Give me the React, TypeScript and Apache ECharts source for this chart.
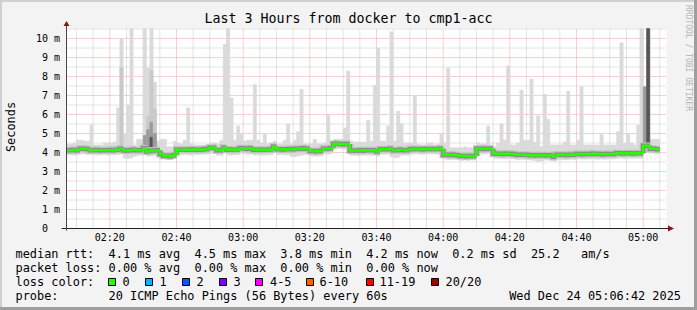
import React, { useEffect, useRef } from 'react';
import * as echarts from 'echarts';

// ---------- data ----------
const TITLE = 'Last 3 Hours from docker to cmp1-acc';
const TIME_START = '02:07'; // first minute on the axis
const TIME_END = '05:07';
const X_TICKS = ['02:20', '02:40', '03:00', '03:20', '03:40', '04:00', '04:20', '04:40', '05:00'];
const Y_TICKS = [0, 1, 2, 3, 4, 5, 6, 7, 8, 9, 10];

// median rtt per minute (ms)
const MED = [
  4.12, 4.12, 4.13, 4.12, 4.2, 4.2, 4.18, 4.12, 4.12, 4.13,
  4.12, 4.12, 4.12, 4.13, 4.12, 4.14, 4.2, 4.12, 4.1, 4.12,
  4.14, 4.12, 4.12, 4.22, 4.05, 4.08, 4.1, 4.12, 3.92, 3.83,
  3.83, 3.8, 3.85, 4.15, 4.15, 4.15, 4.14, 4.15, 4.16, 4.15,
  4.15, 4.16, 4.18, 4.25, 4.25, 4.12, 4.12, 4.25, 4.15, 4.16,
  4.15, 4.15, 4.22, 4.22, 4.2, 4.22, 4.15, 4.15, 4.14, 4.15,
  4.15, 4.16, 4.3, 4.17, 4.17, 4.16, 4.17, 4.18, 4.17, 4.2,
  4.2, 4.22, 4.2, 4.08, 4.08, 4.07, 4.08, 4.2, 4.2, 4.22,
  4.45, 4.46, 4.45, 4.44, 4.45, 4.1, 4.1, 4.1, 4.12, 4.1,
  4.12, 4.12, 4.12, 4.05, 4.17, 4.17, 4.17, 4.2, 4.12, 4.12,
  4.14, 4.12, 4.12, 4.17, 4.18, 4.18, 4.18, 4.17, 4.18, 4.18,
  4.18, 4.18, 4.2, 3.88, 3.88, 3.87, 3.88, 3.86, 3.82, 3.82,
  3.8, 3.82, 3.82, 4.2, 4.2, 4.18, 4.2, 4.2, 3.95, 3.93,
  3.93, 3.92, 3.93, 3.93, 3.92, 3.88, 3.88, 3.88, 3.88, 3.86,
  3.86, 3.85, 3.86, 3.86, 3.85, 3.85, 3.78, 3.88, 3.88, 3.88,
  3.87, 3.88, 3.88, 3.92, 3.92, 3.91, 3.92, 3.92, 3.93, 3.92,
  3.92, 3.91, 3.92, 3.92, 3.92, 3.96, 3.96, 3.95, 3.96, 3.96,
  3.95, 3.96, 3.96, 4.35, 4.35, 4.2, 4.2, 4.17,
];

// lowest ping per minute (ms)
const MIN = [
  3.88, 3.88, 3.85, 3.88, 3.92, 3.92, 3.9, 3.88, 3.88, 3.86,
  3.88, 3.88, 3.86, 3.88, 3.88, 3.88, 3.92, 3.7, 3.68, 3.72,
  3.8, 3.85, 3.86, 3.9, 3.8, 3.82, 3.85, 3.86, 3.7, 3.65,
  3.66, 3.65, 3.68, 3.88, 3.88, 3.9, 3.88, 3.86, 3.9, 3.88,
  3.9, 3.9, 3.92, 3.95, 3.95, 3.85, 3.86, 3.98, 3.88, 3.85,
  3.88, 3.88, 3.95, 3.94, 3.9, 3.92, 3.86, 3.88, 3.86, 3.86,
  3.88, 3.88, 4.0, 3.88, 3.9, 3.88, 3.88, 3.8, 3.78, 3.82,
  3.85, 3.9, 3.92, 3.82, 3.8, 3.8, 3.82, 3.92, 3.9, 3.95,
  4.2, 4.22, 4.2, 4.18, 4.2, 3.85, 3.85, 3.82, 3.85, 3.85,
  3.86, 3.85, 3.86, 3.8, 3.9, 3.9, 3.92, 3.78, 3.72, 3.75,
  3.85, 3.86, 3.86, 3.9, 3.92, 3.92, 3.9, 3.9, 3.92, 3.92,
  3.92, 3.9, 3.94, 3.65, 3.62, 3.62, 3.64, 3.62, 3.58, 3.6,
  3.58, 3.6, 3.6, 3.94, 3.95, 3.92, 3.95, 3.94, 3.7, 3.68,
  3.68, 3.66, 3.68, 3.68, 3.66, 3.62, 3.64, 3.62, 3.62, 3.6,
  3.58, 3.52, 3.55, 3.6, 3.6, 3.58, 3.55, 3.62, 3.62, 3.62,
  3.62, 3.64, 3.62, 3.66, 3.66, 3.64, 3.66, 3.66, 3.66, 3.64,
  3.66, 3.64, 3.66, 3.66, 3.66, 3.7, 3.7, 3.68, 3.7, 3.7,
  3.68, 3.7, 3.7, 4.0, 4.05, 3.95, 3.96, 3.92,
];

// highest ping per minute (ms)
const MAX = [
  4.45, 4.45, 4.5, 4.65, 4.65, 4.6, 4.6, 5.44, 4.4, 4.4,
  4.4, 4.5, 4.5, 4.5, 4.55, 6.35, 10.0, 5.0, 6.5, 10.6,
  4.4, 4.7, 4.7, 10.6, 8.45, 10.6, 7.7, 4.6, 4.7, 4.7,
  4.3, 4.3, 4.6, 4.5, 4.45, 4.65, 6.35, 4.45, 4.4, 4.4,
  4.4, 4.4, 4.4, 4.5, 4.5, 4.45, 4.65, 9.7, 10.6, 6.87,
  4.65, 5.4, 5.0, 4.6, 4.65, 4.65, 7.58, 4.65, 4.5, 5.0,
  4.45, 4.5, 4.6, 4.45, 4.45, 4.65, 5.5, 4.45, 4.65, 5.1,
  7.33, 4.45, 4.45, 4.45, 4.7, 4.45, 4.45, 4.5, 5.96, 4.5,
  4.7, 4.7, 4.7, 5.3, 8.28, 4.6, 4.55, 4.55, 4.55, 4.55,
  5.7, 4.6, 7.54, 9.5, 4.6, 4.6, 5.4, 10.35, 4.6, 6.17,
  5.52, 4.5, 4.5, 4.5, 7.0, 4.45, 4.4, 4.4, 4.5, 4.5,
  4.4, 4.45, 5.0, 4.5, 8.45, 4.25, 4.25, 4.25, 4.25, 4.3,
  4.25, 4.25, 4.25, 4.5, 4.45, 4.45, 5.4, 4.4, 4.3, 4.5,
  5.5, 4.65, 8.56, 4.4, 4.4, 4.5, 7.28, 4.65, 4.65, 7.86,
  4.55, 5.93, 4.3, 7.07, 5.76, 4.4, 4.4, 4.4, 4.4, 4.56,
  7.23, 4.4, 4.4, 4.65, 7.46, 4.4, 4.4, 4.4, 4.4, 4.4,
  4.95, 4.4, 4.4, 4.4, 4.4, 5.1, 9.77, 4.5, 4.97, 4.5,
  4.4, 5.44, 10.6, 7.46, 10.6, 4.7, 4.7, 4.7,
];

// denser smoke layers: [minute index, from ms, to ms, shade level]
const SMOKE_LAYERS = [
  [16, 4.3, 8.45, 0],
  [23, 4.3, 4.9, 1],
  [24, 4.3, 5.9, 0],
  [24, 4.15, 5.2, 1],
  [25, 4.3, 8.3, 0],
  [25, 4.2, 5.6, 1],
  [25, 4.2, 4.8, 2],
  [26, 4.3, 6.3, 0],
  [26, 4.2, 5.0, 1],
  [173, 4.45, 7.46, 1],
  [174, 4.2, 10.6, 2],
];

const RTT = [4.1, 4.5, 3.8, 4.2]; // avg max min now
const RTT_SD = 0.2;
const AM_S = 25.2;
const LOSS = [0, 0, 0, 0]; // avg max min now
const LOSS_LABELS = ['0', '1', '2', '3', '4-5', '6-10', '11-19', '20/20'];
const LOSS_COLORS = ['#26ff00', '#00b8ff', '#0059ff', '#7e00ff', '#ff00ff', '#ff5e00', '#ff0000', '#a10000'];
const PROBE = '20 ICMP Echo Pings (56 Bytes) every 60s';
const STAMP = 'Wed Dec 24 05:06:42 2025';

// ---------- layout / style ----------
const MONO = '"DejaVu Sans Mono", monospace';
const GL = 66.5, GT = 28.5, GW = 600, GH = 200;
const Y_MAX = GH / 19;
const SHADES = ['#c9c9c9', '#9a9a9a', '#555555'];

const toMin = (s: string) => { const [h, m] = s.split(':').map(Number); return h * 60 + m; };
const fmtMin = (v: number) => {
  const h = Math.floor(v / 60), m = Math.round(v % 60);
  return String(h).padStart(2, '0') + ':' + String(m).padStart(2, '0');
};
const T0 = toMin(TIME_START);
const T1 = toMin(TIME_END);

function buildOption() {
  const clampY = (v: number) => Math.max(0, Math.min(v, Y_MAX));

  const gridV: number[] = [];
  for (let t = Math.ceil(T0 / 5) * 5; t < T1; t += 5) gridV.push(t);
  const gridH: number[] = [];
  for (let k = 1; k <= 21; k++) gridH.push(k * 0.5);
  const gridData = [
    ...gridV.map((t) => [0, t, t % 20 === 0 ? 1 : 0]),
    ...gridH.map((v) => [1, v, Number.isInteger(v) ? 1 : 0]),
  ];

  const smokeData = MED.map((_, i) => [T0 + i, MIN[i], MAX[i]]);
  const layerData = SMOKE_LAYERS.map((l) => [T0 + l[0], l[1], l[2], l[3]]);
  const medData = MED.map((v, i) => [T0 + i, v, i > 0 ? MED[i - 1] : v]);

  const medianSeries = (color: string, width: number, z: number) => ({
    type: 'custom',
    z,
    silent: true,
    data: medData,
    renderItem: (_p: any, api: any) => {
      const t = api.value(0);
      const a = api.coord([t, clampY(api.value(2))]);
      const b = api.coord([t, clampY(api.value(1))]);
      const c = api.coord([t + 1, clampY(api.value(1))]);
      return {
        type: 'polyline',
        shape: { points: [[a[0], a[1]], [b[0], b[1]], [c[0], c[1]]] },
        style: { stroke: color, lineWidth: width, fill: null, lineCap: 'butt', lineJoin: 'miter' },
      };
    },
  });

  const rtt = `median rtt:  ${RTT[0].toFixed(1)} ms avg  ${RTT[1].toFixed(1)} ms max  ${RTT[2].toFixed(1)} ms min  ${RTT[3].toFixed(1)} ms now  ${RTT_SD.toFixed(1)} ms sd  ${AM_S.toFixed(1)}   am/s`;
  const loss = `packet loss: ${LOSS[0].toFixed(2)} % avg  ${LOSS[1].toFixed(2)} % max  ${LOSS[2].toFixed(2)} % min  ${LOSS[3].toFixed(2)} % now`;
  const probe = `probe:       ${PROBE}`;

  const legendFont = { fontFamily: MONO, fontSize: 11.9, fill: '#000' };
  const boxX = [108.5, 145.5, 182.5, 219.5, 255.5, 306.5, 366.5, 431.5];
  const labX = [122.5, 159.5, 196.5, 233.5, 270, 319.5, 379.5, 445.5];

  const graphic: any[] = [
    // bevel frame
    { type: 'rect', shape: { x: 0, y: 0, width: 697, height: 2 }, style: { fill: '#cfcfcf' }, z: 100 },
    { type: 'rect', shape: { x: 0, y: 0, width: 2, height: 310 }, style: { fill: '#cfcfcf' }, z: 100 },
    { type: 'rect', shape: { x: 0, y: 307, width: 697, height: 3 }, style: { fill: '#9e9e9e' }, z: 100 },
    { type: 'rect', shape: { x: 694, y: 0, width: 3, height: 310 }, style: { fill: '#9e9e9e' }, z: 100 },
    // axes
    { type: 'line', shape: { x1: GL - 5, y1: GT + GH, x2: GL + GW + 2, y2: GT + GH }, style: { stroke: '#222', lineWidth: 1 }, z: 100 },
    { type: 'line', shape: { x1: GL, y1: GT + GH + 2, x2: GL, y2: GT - 2.5 }, style: { stroke: '#444', lineWidth: 1 }, z: 100 },
    { type: 'polygon', shape: { points: [[GL + GW + 1.5, GT + GH - 3], [GL + GW + 7.5, GT + GH], [GL + GW + 1.5, GT + GH + 3]] }, style: { fill: '#8f1010' }, z: 100 },
    { type: 'polygon', shape: { points: [[GL - 3, GT - 2.5], [GL, GT - 7.5], [GL + 3, GT - 2.5]] }, style: { fill: '#8f1010' }, z: 100 },
    // side texts
    { type: 'text', x: 688.5, y: 5, rotation: -Math.PI / 2, style: { text: 'RRDTOOL / TOBI OETIKER', fontFamily: MONO, fontSize: 8, fill: '#b4b4b4', align: 'left', verticalAlign: 'middle' }, z: 100 },
    { type: 'text', x: 11, y: 127, rotation: Math.PI / 2, style: { text: 'Seconds', fontFamily: MONO, fontSize: 11.9, fill: '#000', align: 'center', verticalAlign: 'middle' }, z: 100 },
    // legend
    { type: 'text', x: 15.5, y: 254.3, style: { ...legendFont, text: rtt, align: 'left', verticalAlign: 'middle' }, z: 100 },
    { type: 'text', x: 15.5, y: 268.3, style: { ...legendFont, text: loss, align: 'left', verticalAlign: 'middle' }, z: 100 },
    { type: 'text', x: 15.5, y: 282.4, style: { ...legendFont, text: 'loss color:', align: 'left', verticalAlign: 'middle' }, z: 100 },
    { type: 'text', x: 15.5, y: 296.3, style: { ...legendFont, text: probe, align: 'left', verticalAlign: 'middle' }, z: 100 },
    { type: 'text', x: 681, y: 296.3, style: { ...legendFont, text: STAMP, align: 'right', verticalAlign: 'middle' }, z: 100 },
  ];
  LOSS_LABELS.forEach((lab, i) => {
    graphic.push({ type: 'rect', shape: { x: boxX[i], y: 278.5, width: 7, height: 7 }, style: { fill: LOSS_COLORS[i], stroke: '#000', lineWidth: 1 }, z: 100 });
    graphic.push({ type: 'text', x: labX[i], y: 282.4, style: { ...legendFont, text: lab, align: 'left', verticalAlign: 'middle' }, z: 100 });
  });

  return {
    animation: false,
    backgroundColor: '#f3f3f3',
    title: {
      text: TITLE,
      left: 'center',
      top: 12,
      padding: 0,
      textStyle: { fontFamily: MONO, fontSize: 13.3, fontWeight: 'normal', color: '#000' },
    },
    grid: { left: GL, top: GT, width: GW, height: GH, show: true, backgroundColor: '#ffffff', borderWidth: 0 },
    xAxis: {
      type: 'value',
      min: T0,
      max: T1,
      axisLine: { show: false },
      axisTick: { show: false },
      splitLine: { show: false },
      axisLabel: {
        customValues: X_TICKS.map(toMin),
        formatter: (v: number) => fmtMin(v),
        fontFamily: MONO,
        fontSize: 10,
        color: '#000',
        margin: 4,
      },
    },
    yAxis: {
      type: 'value',
      min: 0,
      max: Y_MAX,
      axisLine: { show: false },
      axisTick: { show: false },
      splitLine: { show: false },
      axisLabel: {
        customValues: Y_TICKS,
        formatter: (v: number) => (v === 0 ? '0  ' : `${v} m`),
        fontFamily: MONO,
        fontSize: 10,
        color: '#000',
        margin: 6.5,
      },
    },
    graphic,
    series: [
      {
        type: 'custom',
        z: 1,
        silent: true,
        data: gridData,
        renderItem: (_p: any, api: any) => {
          const kind = api.value(0), v = api.value(1), major = api.value(2);
          const color = major ? '#eba3a3' : '#c8c8c8';
          let a, b;
          if (kind === 0) { a = api.coord([v, 0]); b = api.coord([v, Y_MAX]); }
          else { a = api.coord([T0, v]); b = api.coord([T1, v]); }
          return { type: 'line', shape: { x1: a[0], y1: a[1], x2: b[0], y2: b[1] }, style: { stroke: color, lineWidth: 1, lineDash: [1, 1] } };
        },
      },
      {
        type: 'custom',
        z: 2,
        silent: true,
        data: smokeData,
        renderItem: (_p: any, api: any) => {
          const t = api.value(0);
          const p0 = api.coord([t, clampY(api.value(2))]);
          const p1 = api.coord([t + 1, clampY(api.value(1))]);
          return { type: 'rect', shape: { x: p0[0], y: p0[1], width: p1[0] - p0[0], height: p1[1] - p0[1] }, style: { fill: '#dadada', stroke: '#dadada', lineWidth: 0.5 } };
        },
      },
      {
        type: 'custom',
        z: 3,
        silent: true,
        data: layerData,
        renderItem: (_p: any, api: any) => {
          const t = api.value(0);
          const p0 = api.coord([t, clampY(api.value(2))]);
          const p1 = api.coord([t + 1, clampY(api.value(1))]);
          const c = SHADES[api.value(3)];
          return { type: 'rect', shape: { x: p0[0], y: p0[1], width: p1[0] - p0[0], height: p1[1] - p0[1] }, style: { fill: c, stroke: c, lineWidth: 0.5 } };
        },
      },
      medianSeries('#c0c0c0', 7, 4),
      medianSeries('#888888', 4.5, 5),
      medianSeries(LOSS_COLORS[0], 2.5, 6),
    ],
  };
}

export default function App() {
  const ref = useRef<HTMLDivElement>(null);
  useEffect(() => {
    const chart = echarts.init(ref.current as HTMLDivElement, null, { renderer: 'svg' });
    chart.setOption(buildOption() as any);
    return () => chart.dispose();
  }, []);
  return <div ref={ref} style={{ position: 'fixed', left: 0, top: 0, width: 697, height: 310 }} />;
}
